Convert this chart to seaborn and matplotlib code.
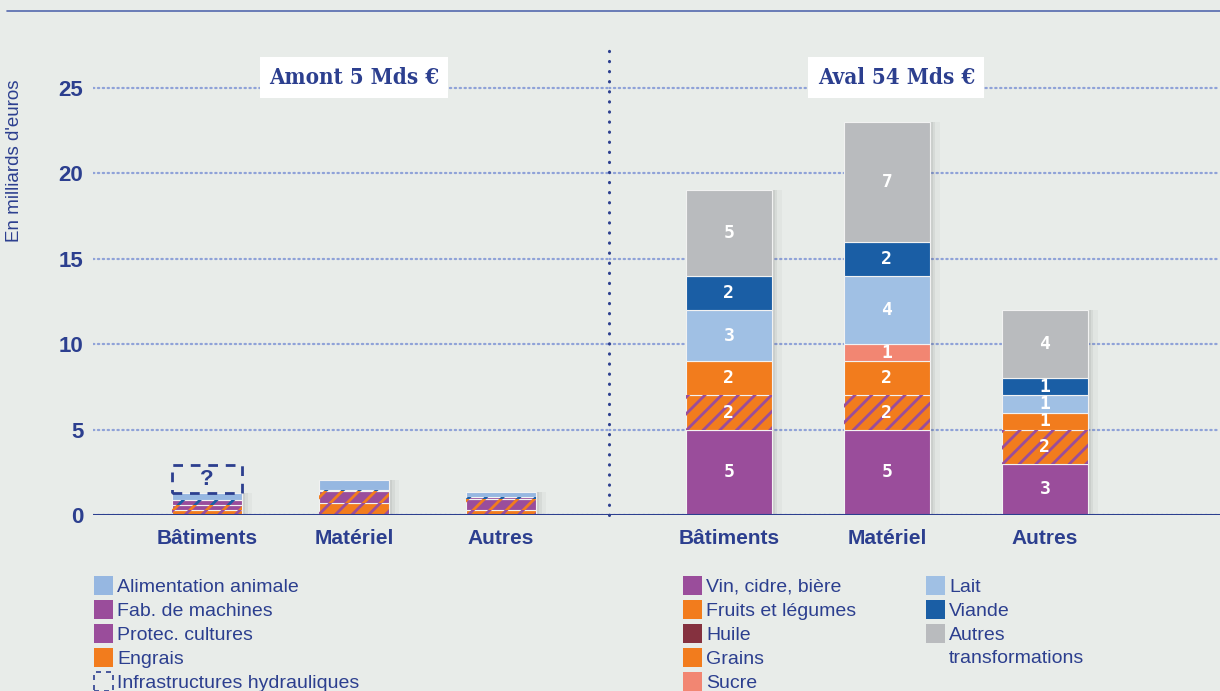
import matplotlib
matplotlib.use("Agg")
import matplotlib.pyplot as plt
import matplotlib.patheffects as pe
from matplotlib.patches import Rectangle
from matplotlib.lines import Line2D
import seaborn as sns
import numpy as np

# --- data (milliards d'euros, bottom to top of each stack) ---
categories = ["Bâtiments", "Matériel", "Autres"]

amont_engrais = [0.30, 0.70, 0.30]
amont_protec = [0.30, 0.68, 0.65]
amont_machines = [0.27, 0.10, 0.10]
amont_alim = [0.43, 0.55, 0.30]
amont_infra = [1.60, 0.0, 0.0]

aval_vin = [5, 5, 3]
aval_fruits = [2, 2, 2]
aval_huile = [0, 0, 0]
aval_grains = [2, 2, 1]
aval_sucre = [0, 1, 0]
aval_lait = [3, 4, 1]
aval_viande = [2, 2, 1]
aval_autres = [5, 7, 4]

titles = ["Amont 5 Mds €", "Aval 54 Mds €"]
yticks = [0, 5, 10, 15, 20, 25]
ylabel = "En milliards d'euros"

legend_amont = ["Alimentation animale", "Fab. de machines", "Protec. cultures",
                "Engrais", "Infrastructures hydrauliques"]
legend_aval_1 = ["Vin, cidre, bière", "Fruits et légumes", "Huile", "Grains", "Sucre"]
legend_aval_2 = ["Lait", "Viande", "Autres\ntransformations"]

# --- styling ---
BG = "#E8ECE9"
DARK = "#2C3F8F"
GRIDC = "#8FA2D8"
PURPLE = "#9A4D9B"
ORANGE = "#F27C1D"
ALIM = "#96B7E1"
LAIT = "#A0C0E4"
VIANDE = "#1A5EA5"
GREY = "#B9BBBE"
SUCRE = "#F28672"
HUILE = "#85313F"

W, H = 1220, 691

sns.set_theme(style="white")
plt.rcParams["font.family"] = ["Liberation Sans", "DejaVu Sans"]
plt.rcParams["hatch.linewidth"] = 2.0
plt.rcParams["lines.dash_capstyle"] = "round"

fig = plt.figure(figsize=(W / 100, H / 100), dpi=100, facecolor=BG)


def px(x, y):
    return x / W, 1 - y / H


y0 = 515  # baseline pixel
unit = 17.08
ytop = 27.5
ax_bottom = (H - y0) / H
ax_height = ytop * unit / H
ax_l = fig.add_axes([93 / W, ax_bottom, (609 - 93) / W, ax_height])
ax_r = fig.add_axes([609 / W, ax_bottom, (W - 609) / W, ax_height])

shadow = [pe.SimplePatchShadow(offset=(7, 0), shadow_rgbFace="k", alpha=0.03),
          pe.SimplePatchShadow(offset=(4, 0), shadow_rgbFace="k", alpha=0.05),
          pe.SimplePatchShadow(offset=(2, 0), shadow_rgbFace="k", alpha=0.06),
          pe.Normal()]


def draw_stack(ax, layers, width, labels):
    bottom = np.zeros(len(categories))
    for vals, face, hatch_col in layers:
        vals = np.asarray(vals, dtype=float)
        n0 = len(ax.patches)
        sns.barplot(x=categories, y=vals, order=categories, color=face,
                    saturation=1, width=width, bottom=bottom, errorbar=None,
                    edgecolor="#F2F2F2", linewidth=0.8, ax=ax, zorder=3)
        bars = ax.patches[n0:]
        for p, v in zip(bars, vals):
            if v <= 0:
                p.set_visible(False)
                continue
            p.set_path_effects(shadow)
            if hatch_col:
                ax.add_patch(Rectangle(p.get_xy(), p.get_width(), p.get_height(),
                                       facecolor="none", edgecolor=hatch_col,
                                       linewidth=0, hatch="//", zorder=3.5))
            if labels and v >= 1:
                ax.text(p.get_x() + p.get_width() / 2, p.get_y() + p.get_height() / 2,
                        f"{v:g}", ha="center", va="center", color="white",
                        fontsize=13, fontweight="bold", family="DejaVu Sans Mono",
                        zorder=5)
        bottom = bottom + vals
    return bottom


# amont
base = draw_stack(ax_l, [
    (amont_engrais, ORANGE, PURPLE),
    (amont_protec, PURPLE, ORANGE),
    (amont_machines, PURPLE, VIANDE),
    (amont_alim, ALIM, None),
], 0.476, labels=False)

n0 = len(ax_l.patches)
sns.barplot(x=categories, y=amont_infra, order=categories, color=BG, saturation=1,
            width=0.476, bottom=base, errorbar=None, ax=ax_l, zorder=3)
for p, v in zip(ax_l.patches[n0:], amont_infra):
    if v <= 0:
        p.set_visible(False)
        continue
    p.set_facecolor("none")
    p.set_edgecolor(DARK)
    p.set_linewidth(2)
    p.set_linestyle((0, (3.5, 2.8)))
    ax_l.text(p.get_x() + p.get_width() / 2, p.get_y() + p.get_height() / 2,
              "?", ha="center", va="center", color=DARK, fontsize=16,
              fontweight="bold", zorder=5)

# aval
draw_stack(ax_r, [
    (aval_vin, PURPLE, None),
    (aval_fruits, ORANGE, PURPLE),
    (aval_huile, HUILE, None),
    (aval_grains, ORANGE, None),
    (aval_sucre, SUCRE, None),
    (aval_lait, LAIT, None),
    (aval_viande, VIANDE, None),
    (aval_autres, GREY, None),
], 0.544, labels=True)

ax_l.set_xlim(-0.776, 2.735)
ax_r.set_xlim(-0.759, 3.108)

for ax, title, tx in [(ax_l, titles[0], 1.0), (ax_r, titles[1], 1.06)]:
    ax.set_facecolor(BG)
    ax.set_ylim(0, ytop)
    ax.set_yticks(yticks)
    ax.yaxis.grid(True, color=GRIDC, linewidth=1.6, linestyle=(0, (0.6, 1.6)))
    ax.xaxis.grid(False)
    ax.set_axisbelow(True)
    for s in ax.spines.values():
        s.set_visible(False)
    ax.axhline(0, color=DARK, linewidth=2.2, zorder=4)
    ax.tick_params(axis="x", length=0, pad=10, labelsize=15, labelcolor=DARK)
    for lab in ax.get_xticklabels():
        lab.set_fontweight("bold")
    ax.set_xlabel("")
    ax.set_ylabel("")
    ax.text(tx, 25.6, title, ha="center", va="center", fontsize=16,
            fontweight="bold", family="DejaVu Serif", fontstretch="condensed",
            color=DARK, zorder=6,
            bbox=dict(facecolor="white", edgecolor="none", boxstyle="square,pad=0.42"))

ax_l.tick_params(axis="y", length=0, pad=7, labelsize=16, labelcolor=DARK)
for lab in ax_l.get_yticklabels():
    lab.set_fontweight("bold")
ax_r.tick_params(axis="y", left=False, labelleft=False)

# separator and top rule
fig.add_artist(Line2D([609 / W, 609 / W], [ax_bottom, ax_bottom + ax_height],
                      color=DARK, linewidth=2.2, dashes=(0.1, 3.2),
                      dash_capstyle="round"))
fig.add_artist(Line2D([7 / W, 1.0], [1 - 11 / H, 1 - 11 / H],
                      color="#5468AE", linewidth=1.2))

fig.text(*px(15, 161), ylabel, rotation=90, ha="center", va="center",
         fontsize=13.5, color=DARK)


def legend_col(names, colors, x_patch, x_text, y_first, dashed_last=False):
    for i, (name, col) in enumerate(zip(names, colors)):
        top = y_first + 24 * i
        xy = px(x_patch, top + 19)
        if dashed_last and i == len(names) - 1:
            rect = Rectangle(xy, 19 / W, 19 / H, transform=fig.transFigure,
                             facecolor="none", edgecolor=DARK, linewidth=1.2,
                             linestyle=(0, (3, 3)))
        else:
            rect = Rectangle(xy, 19 / W, 19 / H, transform=fig.transFigure,
                             facecolor=col, edgecolor="none")
        fig.add_artist(rect)
        if "\n" in name:
            fig.text(*px(x_text, top + 3), name, ha="left", va="top",
                     fontsize=14, color=DARK, linespacing=1.45)
        else:
            fig.text(*px(x_text, top + 11), name, ha="left", va="center",
                     fontsize=14, color=DARK)


legend_col(legend_amont, [ALIM, PURPLE, PURPLE, ORANGE, None], 94, 117, 576,
           dashed_last=True)
legend_col(legend_aval_1, [PURPLE, ORANGE, HUILE, ORANGE, SUCRE], 683, 706, 576)
legend_col(legend_aval_2, [LAIT, VIANDE, GREY], 926, 949, 576)

fig.savefig("out.png", dpi=100, facecolor=BG)
